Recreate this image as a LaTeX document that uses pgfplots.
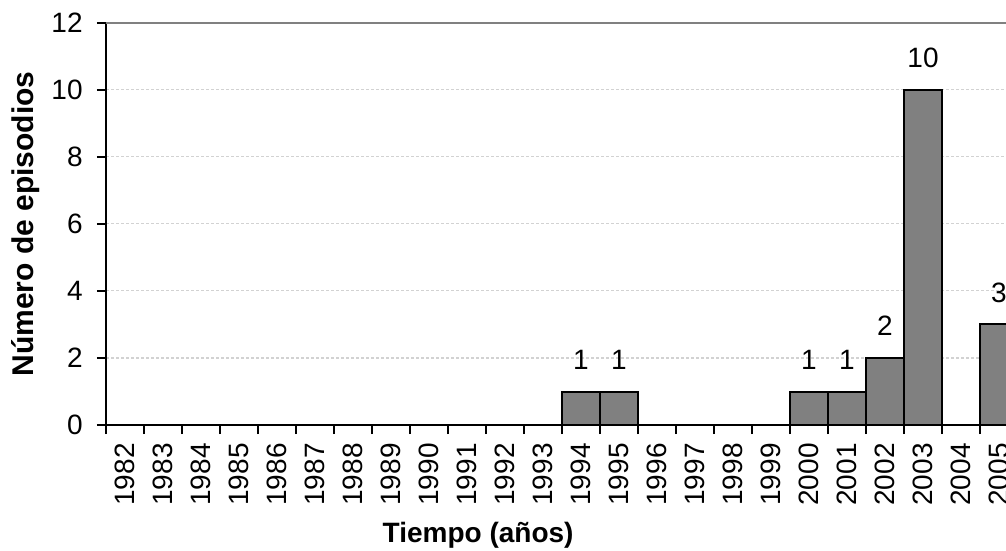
\documentclass[border=0pt]{standalone}
\usepackage{pgfplots}
\pgfplotsset{compat=1.18}
\usepackage{fontspec}
\setmainfont{Liberation Sans}

\begin{document}
\begin{tikzpicture}
% the reference is cut off on the right, so clip the same way
\clip (-53pt,-63pt) rectangle (450pt,212.5pt);
\begin{axis}[
	scale only axis,
	width=456pt, height=201pt,
	xmin=-0.5, xmax=23.5,
	ymin=0, ymax=12,
	axis x line*=bottom,
	axis y line*=left,
	axis line style={line width=1pt},
	/pgf/number format/assume math mode=true,
	tick align=outside,
	major tick length=4.5pt,
	tick style={black, line width=1pt},
	xtick={-0.5,0.5,...,23.5},
	xticklabels={},
	extra x ticks={0,1,...,23},
	extra x tick labels={1982,1983,1984,1985,1986,1987,1988,1989,1990,1991,1992,1993,1994,1995,1996,1997,1998,1999,2000,2001,2002,2003,2004,2005},
	extra x tick style={major tick length=0pt},
	xticklabel style={yshift=-9pt, rotate=90, anchor=east, inner sep=0pt, font=\fontsize{14}{16}\selectfont},
	ytick={0,2,...,12},
	yticklabel style={anchor=east, inner sep=0pt, xshift=-7pt, font=\fontsize{14}{16}\selectfont},
	ymajorgrids,
	grid style={gray!35, dash pattern=on 1.5pt off 1pt, line width=0.5pt},
	xlabel={Tiempo (años)},
	ylabel={Número de episodios},
	xlabel style={at={(axis description cs:0.408,-0.2935)}, anchor=base, font=\bfseries\fontsize{14}{16}\selectfont},
	ylabel style={at={(axis description cs:-0.08,0.5)}, anchor=base, font=\bfseries\fontsize{15}{17}\selectfont},
	ybar, bar width=1,
	nodes near coords,
	every node near coord/.append style={anchor=south, inner sep=0pt, yshift=10.5pt, font=\fontsize{14}{16}\selectfont, black},
]
\addplot[fill=gray, draw=black, line width=1pt] coordinates {
	(12,1) (13,1) (18,1) (19,1) (20,2) (21,10) (23,3)};
\draw[gray, line width=1pt] (rel axis cs:0,1) -- (rel axis cs:1,1);
\end{axis}
\end{tikzpicture}
\end{document}
